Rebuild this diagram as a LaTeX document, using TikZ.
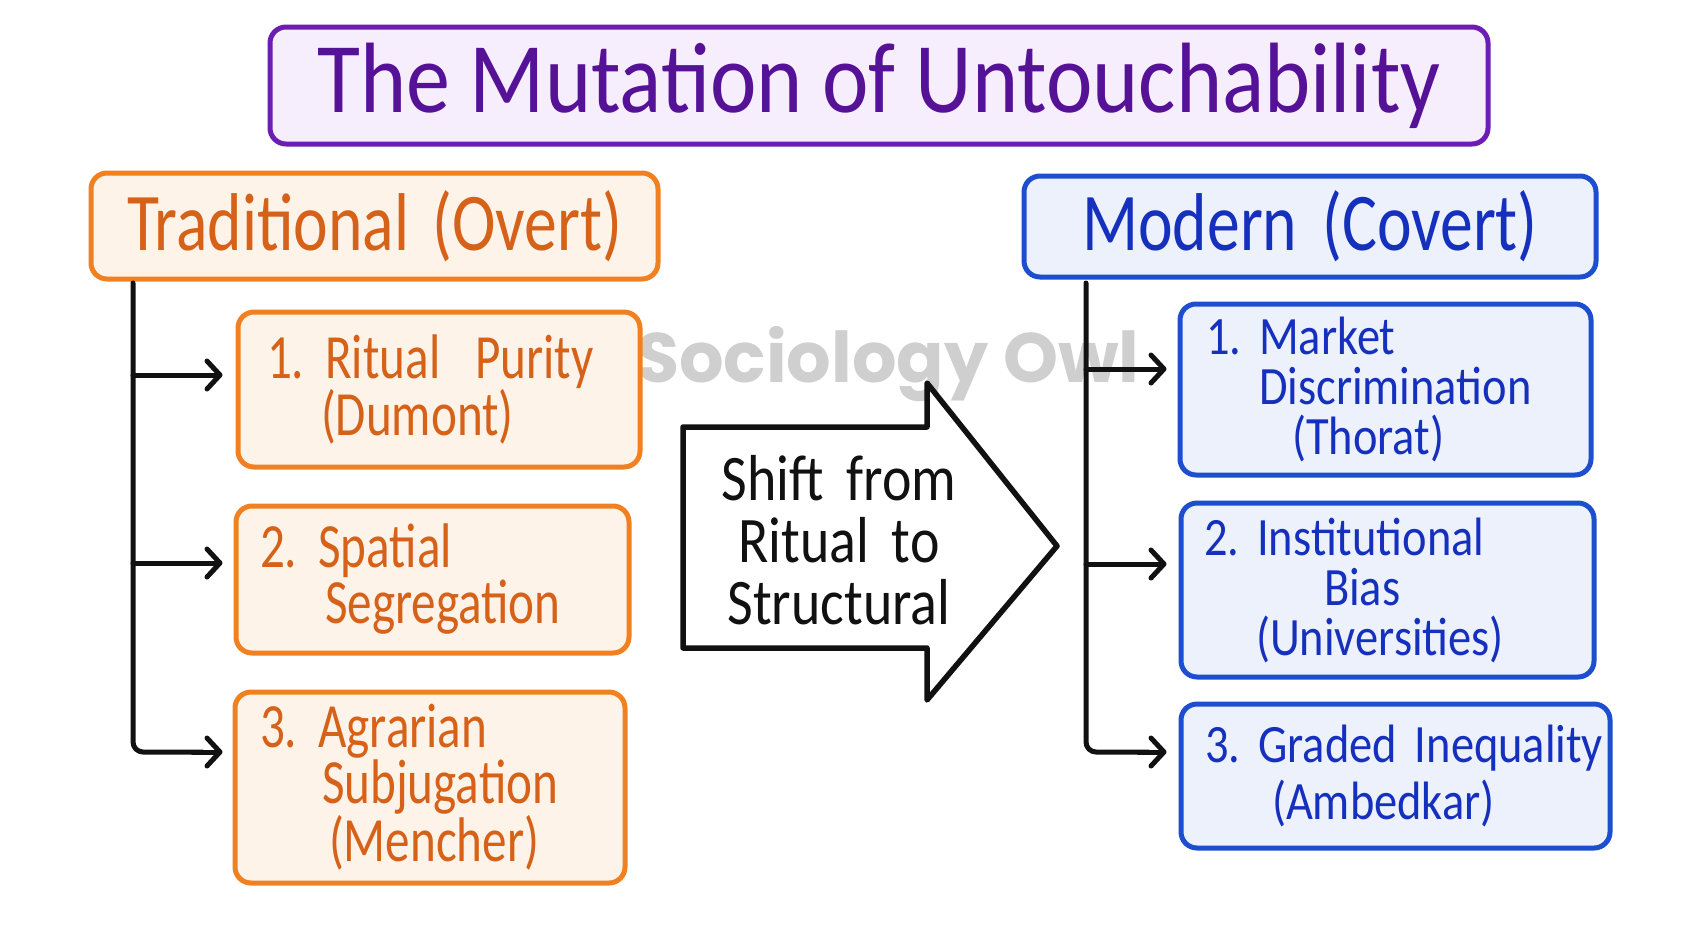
\documentclass[tikz,border=0pt]{standalone}
\usepackage{fontspec}
\setmainfont{Carlito}
\newfontfamily\hand{Carlito}[FakeStretch=0.78]
\newfontfamily\handH{Carlito}[FakeStretch=0.80]
\newfontfamily\handR{Carlito}[FakeStretch=0.86]
\newfontfamily\handA{Carlito}[FakeStretch=0.86]
\newfontfamily\handT{Carlito}[FakeStretch=0.88]
\newfontfamily\wmfont{Poppins}
\usetikzlibrary{arrows.meta,calc}
\definecolor{orS}{HTML}{F08020}
\definecolor{orF}{HTML}{FEF3E8}
\definecolor{orT}{HTML}{D6621A}
\definecolor{blS}{HTML}{1C4ECE}
\definecolor{blF}{HTML}{ECF1FC}
\definecolor{blT}{HTML}{1630BE}
\definecolor{puS}{HTML}{6C1EB4}
\definecolor{puF}{HTML}{F6EEFC}
\definecolor{puT}{HTML}{561296}
\definecolor{wmgray}{HTML}{CFCFCF}
\definecolor{ink}{HTML}{111111}
\frenchspacing
\hyphenpenalty=10000
\begin{document}
\begin{tikzpicture}[x=1pt,y=-1pt,
  boxbase/.style={line width=5pt, rounded corners=16pt, inner sep=0pt},
  orbox/.style={boxbase, draw=orS, fill=orF, text=orT},
  blbox/.style={boxbase, draw=blS, fill=blF, text=blT},
  ttlbox/.style={boxbase, draw=puS, fill=puF, text=puT, font=\handT\fontsize{100}{110}\selectfont},
  hdrfont/.style={font=\handH\fontsize{82}{90}\selectfont},
  litem/.style={align=left, font=\hand\fontsize{63}{56}\selectfont},
  ritem/.style={align=left, font=\handR\fontsize{54}{50}\selectfont},
  conn/.style={draw=ink, line width=5pt, line cap=round,
    -{Straight Barb[length=13pt,width=28pt,round]}},
  spineline/.style={draw=ink, line width=5pt, line cap=round, rounded corners=10pt},
  bigarrow/.style={draw=ink, line width=5.5pt, fill=white, line join=round}
]
\useasboundingbox[fill=white] (0,0) rectangle (1693,929);

% watermark
\node[anchor=base west, inner sep=0pt, text=wmgray,
  font=\wmfont\bfseries\fontsize{70}{80}\selectfont] (wm) at (636,382) {Sociology Owl};

% title
\node[ttlbox, minimum width=1218pt, minimum height=117pt] (title) at (879,85.5)
  {The Mutation of Untouchability};

% headers
\node[orbox, hdrfont, minimum width=567pt, minimum height=106pt] (T) at (374.5,226)
  {Traditional\hspace{8pt} (Overt)};
\node[blbox, hdrfont, minimum width=572pt, minimum height=101pt] (M) at (1310,226.5)
  {Modern\hspace{10pt} (Covert)};

% left items
\node[orbox, litem, text width=344pt, inner xsep=29pt, minimum height=155pt] (L1) at (439,389.5)
  {\mbox{1. Ritual\hspace{14pt} Purity}\\\hspace*{54pt}(Dumont)};
\node[orbox, litem, text width=345pt, inner xsep=24pt, minimum height=147pt] (L2) at (432.5,579.5)
  {\mbox{2. Spatial}\\\hspace*{65pt}Segregation};
\node[orbox, litem, text width=340pt, inner xsep=25pt, minimum height=191pt] (L3) at (430,787.5)
  {\mbox{3. Agrarian}\\\hspace*{62pt}Subjugation\\\hspace*{69pt}(Mencher)};

% right items
\node[blbox, ritem, text width=359pt, inner xsep=26pt, minimum height=171pt] (R1) at (1385.5,389.5)
  {\mbox{1. Market}\\\hspace*{53pt}Discrimination\\\hspace*{86pt}(Thorat)};
\node[blbox, ritem, text width=367pt, inner xsep=23pt, minimum height=174pt] (R2) at (1387.5,590)
  {\mbox{2. Institutional}\\\hspace*{120pt}Bias\\\hspace*{52pt}(Universities)};
\node[blbox, ritem, font=\handR\fontsize{54}{57}\selectfont, text width=381pt, inner xsep=24pt, minimum height=144pt] (R3) at (1395.5,776)
  {\mbox{3. Graded Inequality}\\\hspace*{67pt}(Ambedkar)};

% central arrow
\draw[bigarrow] (683,427) -- (927,427) -- (927,383) -- (1057,546) -- (927,700) -- (927,648) -- (683,648) -- cycle;
\node[align=center, text=ink, font=\handA\fontsize{65}{62}\selectfont] (shift) at (839,540)
  {Shift\hspace{10pt} from\\Ritual\hspace{10pt} to\\Structural};

% left connectors
\coordinate (ls) at (133,283);
\coordinate (la1) at ([yshift=14.5pt]L1.west);
\coordinate (la2) at ([yshift=16.5pt]L2.west);
\coordinate (la3) at ([yshift=35.5pt]L3.west);
\draw[spineline] (ls) |- ($(la3)+(-30,0)$);
\draw[conn, shorten >=13pt] (ls |- la1) -- (la1);
\draw[conn, shorten >=11pt] (ls |- la2) -- (la2);
\draw[conn, shorten >=10pt] ($(la3)+(-40,0)$) -- (la3);

% right connectors
\coordinate (rs) at (1086,283);
\coordinate (ra1) at ([yshift=20.5pt]R1.west);
\coordinate (ra2) at ([yshift=26pt]R2.west);
\coordinate (ra3) at ([yshift=24pt]R3.west);
\draw[spineline] (rs) |- ($(ra3)+(-30,0)$);
\draw[conn, shorten >=11pt] (rs |- ra1) -- (ra1);
\draw[conn, shorten >=12pt] (rs |- ra2) -- (ra2);
\draw[conn, shorten >=12pt] ($(ra3)+(-40,0)$) -- (ra3);
\end{tikzpicture}
\end{document}
